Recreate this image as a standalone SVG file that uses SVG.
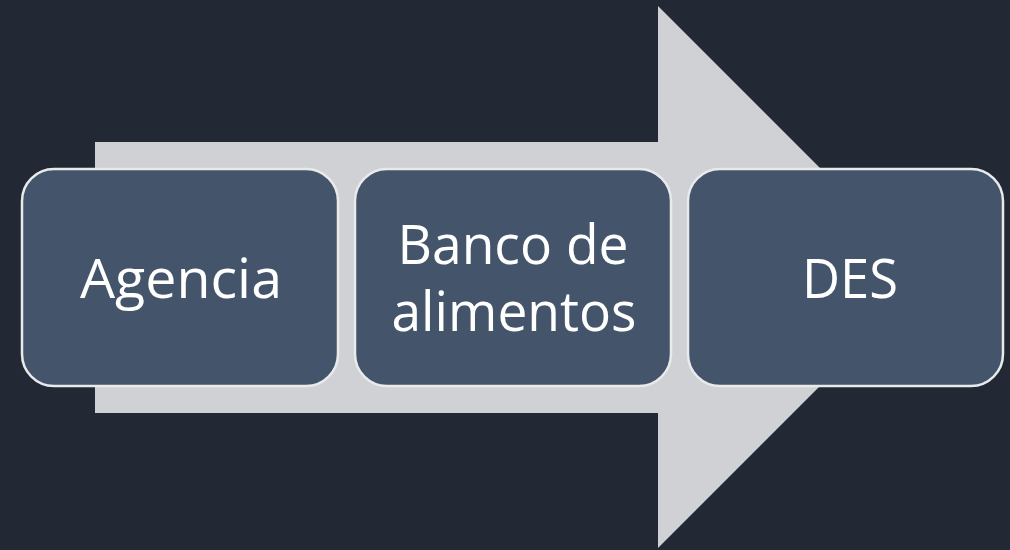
<svg xmlns="http://www.w3.org/2000/svg" width="1010" height="550" viewBox="0 0 1010 550">
<style>
.box{fill:#44546a;stroke:#e9eaec;stroke-width:2.5}
.lbl{fill:#ffffff;font-family:"Open Sans","Noto Sans",sans-serif;font-size:54px;text-anchor:middle}
</style>
<rect width="1010" height="550" fill="#222834"/>
<g id="connectors">
<polygon points="95,142 658,142 658,6 929,277 658,548 658,413 95,413" fill="#d0d1d5"/>
</g>
<g id="node-agencia">
<rect class="box" x="22" y="169" width="316" height="217" rx="32"/>
<text class="lbl" x="181" y="298" textLength="202" lengthAdjust="spacingAndGlyphs">Agencia</text>
</g>
<g id="node-banco">
<rect class="box" x="355" y="169" width="316" height="217" rx="32"/>
<text class="lbl" x="513" y="264" textLength="231" lengthAdjust="spacingAndGlyphs">Banco de</text>
<text class="lbl" x="514" y="331" textLength="245" lengthAdjust="spacingAndGlyphs">alimentos</text>
</g>
<g id="node-des">
<rect class="box" x="688" y="169" width="315" height="217" rx="32"/>
<text class="lbl" x="850" y="298" textLength="96" lengthAdjust="spacingAndGlyphs">DES</text>
</g>
</svg>
